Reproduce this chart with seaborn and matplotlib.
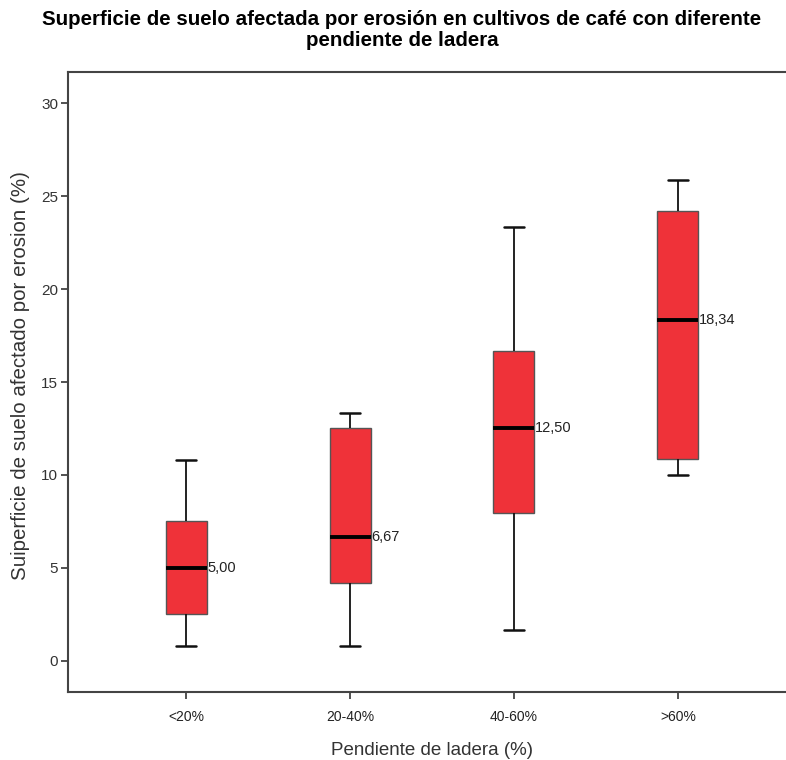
import numpy as np
import pandas as pd
import matplotlib
matplotlib.use("Agg")
import matplotlib.pyplot as plt
import seaborn as sns

# Category labels and five-number summaries
categories = ["<20%", "20-40%", "40-60%", ">60%"]
whisker_low = [0.83, 0.83, 1.67, 10.00]
q1_values = [2.50, 4.17, 7.94, 10.84]
medians = [5.00, 6.67, 12.50, 18.34]
q3_values = [7.50, 12.50, 16.67, 24.17]
whisker_high = [10.83, 13.33, 23.33, 25.84]
y_ticks = [0, 5, 10, 15, 20, 25, 30]

# Build a long table: 5 values per category reproduce exactly these quartiles
rows = []
for i, c in enumerate(categories):
    for v in (whisker_low[i], q1_values[i], medians[i], q3_values[i], whisker_high[i]):
        rows.append({"Pendiente": c, "Valor": v})
df = pd.DataFrame(rows)

sns.set_theme(style="white")
plt.rcParams["font.family"] = ["Liberation Sans", "DejaVu Sans"]

fig = plt.figure(figsize=(7.86, 7.6), dpi=100)
ax = fig.add_axes([68 / 786, 1 - 692 / 760, (796 - 68) / 786, (692 - 72) / 760])

sns.boxplot(
    data=df, x="Pendiente", y="Valor", order=categories, ax=ax,
    color="#ef3239", saturation=1, width=0.25, whis=np.inf,
    linewidth=1.2, linecolor="#222222",
    boxprops=dict(edgecolor="#555555", linewidth=1.0),
    medianprops=dict(color="black", linewidth=2.8),
    whiskerprops=dict(color="#111111", linewidth=1.3),
    capprops=dict(color="#111111", linewidth=1.8),
)

for i, m in enumerate(medians):
    ax.text(i + 0.13, m, f"{m:.2f}".replace(".", ","), ha="left", va="center",
            fontsize=10.5, color="#222222")

ax.set_xlim(-0.72, 3.72)
ax.set_ylim(-1.67, 31.67)
ax.set_yticks(y_ticks)
ax.set_yticklabels([str(t) for t in y_ticks])

for side in ["left", "bottom", "top"]:
    ax.spines[side].set_color("#444444")
    ax.spines[side].set_linewidth(1.5)
ax.spines["right"].set_visible(False)

ax.tick_params(axis="y", which="both", left=True, length=5, width=1.2,
               color="#333333", labelsize=11, labelcolor="#333333", pad=2)
ax.tick_params(axis="x", which="both", bottom=True, length=5, width=1.2,
               color="#333333", labelsize=10, labelcolor="#222222", pad=8)

ax.set_xlabel("Pendiente de ladera (%)", fontsize=13.5, color="#333333", labelpad=13)
ax.set_ylabel("Suiperficie de suelo afectado por erosion (%)", fontsize=14.8,
              color="#333333", labelpad=6)
ax.yaxis.set_label_coords(-0.052, 0.51)

fig.text(402 / 786, 1 - 30 / 760,
         "Superficie de suelo afectada por erosión en cultivos de café con diferente\npendiente de ladera",
         ha="center", va="center", fontsize=14.8, fontweight="bold", color="black",
         linespacing=1.12)

fig.savefig("out.png", dpi=100)
